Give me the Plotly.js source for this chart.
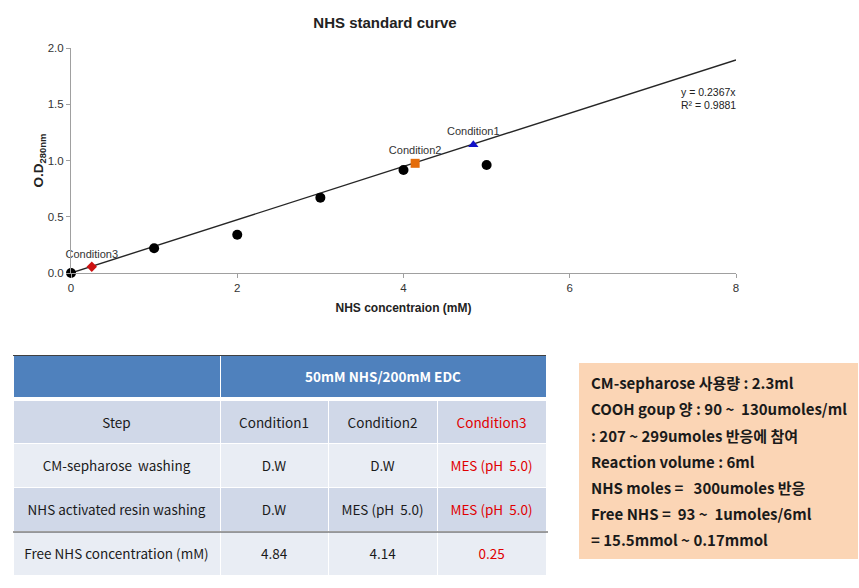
<!DOCTYPE html>
<html>
<head>
<meta charset="utf-8">
<script src="https://cdn.plot.ly/plotly-3.0.1.min.js"></script>
<style>html,body{margin:0;padding:0;background:#fff;}#chart{width:859px;height:588px;}</style>
</head>
<body>
<div id="chart"></div>
<script>
// ---- data ----
const stdX = [0, 1, 2, 3, 4, 5];
const stdY = [0, 0.22, 0.34, 0.67, 0.915, 0.96];
const condNames = ["Condition1", "Condition2", "Condition3"];
const condX = [4.84, 4.14, 0.25];
const condY = [1.14, 0.975, 0.056];
const trendX = [0, 8];
const trendY = [0, 1.894];
const eqLines = ["y = 0.2367x", "R\u00b2 = 0.9881"];
const xTicks = [0, 2, 4, 6, 8];
const xTickText = ["0", "2", "4", "6", "8"];
const yTicks = [0, 0.5, 1, 1.5, 2];
const yTickText = ["0.0", "0.5", "1.0", "1.5", "2.0"];
const tableTop = ["", "50mM NHS/200mM EDC"];
const tableHead = ["Step", "Condition1", "Condition2", "Condition3"];
const tableSteps = ["CM-sepharose\u00a0\u00a0washing", "NHS\u00a0activated\u00a0resin\u00a0washing", "Free\u00a0NHS\u00a0concentration\u00a0(mM)"];
const tableC1 = ["D.W", "D.W", "4.84"];
const tableC2 = ["D.W", "MES\u00a0(pH\u00a0\u00a05.0)", "4.14"];
const tableC3 = ["MES\u00a0(pH\u00a0\u00a05.0)", "MES\u00a0(pH\u00a0\u00a05.0)", "0.25"];
const noteLines = [
  "CM-sepharose \uc0ac\uc6a9\ub7c9 : 2.3ml",
  "COOH goup \uc591 : 90 ~ \u00a0130umoles/ml",
  ": 207 ~ 299umoles \ubc18\uc751\uc5d0 \ucc38\uc5ec",
  "Reaction volume : 6ml",
  "NHS moles = \u00a0\u00a0300umoles \ubc18\uc751",
  "Free NHS = \u00a093 ~ \u00a01umoles/6ml",
  "= 15.5mmol ~ 0.17mmol"
];

// ---- layout helpers ----
const W = 859, H = 588;
const px = x => x / W;
const py = y => 1 - y / H;
const sans = "'Liberation Sans', Arial, sans-serif";
const kr = "'Noto Sans CJK KR', 'Noto Sans', sans-serif";
const clear = 'rgba(0,0,0,0)';
const textShift = 10;
const blank = arr => arr.map(() => "");
const bodyColors = ['#1a1a1a', '#1a1a1a', '#1a1a1a', '#E00000'];

const traces = [
  {x: trendX, y: trendY, mode: 'lines', line: {color: '#262626', width: 1.4}, hoverinfo: 'skip', cliponaxis: false},
  {x: stdX, y: stdY, mode: 'markers', marker: {symbol: 'circle', size: 10, color: '#000'}, cliponaxis: false},
  {x: [condX[0]], y: [condY[0]], text: [condNames[0]], mode: 'markers+text', textposition: 'top center',
   textfont: {family: sans, size: 11, color: '#333'}, marker: {symbol: 'triangle-up', size: 9, color: '#1010C8'}, cliponaxis: false},
  {x: [condX[1]], y: [condY[1]], text: [condNames[1]], mode: 'markers+text', textposition: 'top center',
   textfont: {family: sans, size: 11, color: '#333'}, marker: {symbol: 'square', size: 9, color: '#E46C0A'}, cliponaxis: false},
  {x: [condX[2]], y: [condY[2]], text: [condNames[2]], mode: 'markers+text', textposition: 'top center',
   textfont: {family: sans, size: 11, color: '#333'}, marker: {symbol: 'diamond', size: 8, color: '#CC1010'}, cliponaxis: false},
  // table fills
  {type: 'table', domain: {x: [px(13), px(546)], y: [py(588), py(355)]}, columnwidth: [207, 326],
   header: {values: blank(tableTop), height: 42, fill: {color: '#4F81BD'}, line: {color: '#ffffff', width: 1}},
   cells: {values: [[], []], height: 1}},
  {type: 'table', domain: {x: [px(13), px(546)], y: [py(588), py(400)]}, columnwidth: [207, 108, 109, 109],
   header: {values: blank(tableHead), height: 43, fill: {color: '#D0D8E8'}, line: {color: '#ffffff', width: 1}},
   cells: {values: [blank(tableSteps), blank(tableC1), blank(tableC2), blank(tableC3)], height: 44,
     fill: {color: [['#E9EDF4', '#D0D8E8', '#E9EDF4']]}, line: {color: '#ffffff', width: 1}}},
  // table texts
  {type: 'table', domain: {x: [px(13), px(546)], y: [py(588), py(355 + textShift - 1)]}, columnwidth: [207, 326],
   header: {values: tableTop, height: 42, fill: {color: clear}, line: {color: clear, width: 0},
     align: 'center', font: {family: kr, size: 13.5, color: '#ffffff', weight: 'bold'}},
   cells: {values: [[], []], height: 1, fill: {color: clear}, line: {color: clear, width: 0}}},
  {type: 'table', domain: {x: [px(13), px(546)], y: [py(588), py(400 + textShift)]}, columnwidth: [207, 108, 109, 109],
   header: {values: tableHead, height: 43, fill: {color: clear}, line: {color: clear, width: 0},
     align: 'center', font: {family: kr, size: 13.5, color: bodyColors}},
   cells: {values: [tableSteps, tableC1, tableC2, tableC3], height: 44,
     fill: {color: clear}, line: {color: clear, width: 0},
     align: 'center', font: {family: kr, size: 13.5, color: bodyColors}}}
];

const annotations = [
  {xref: 'paper', yref: 'paper', x: px(679), y: py(92), xanchor: 'left', yanchor: 'middle', showarrow: false,
   text: eqLines[0], font: {family: sans, size: 10.5, color: '#222'}},
  {xref: 'paper', yref: 'paper', x: px(679), y: py(105), xanchor: 'left', yanchor: 'middle', showarrow: false,
   text: eqLines[1], font: {family: sans, size: 10.5, color: '#222'}}
];
const noteY = [382, 408, 435, 461, 487, 513, 539];
noteLines.forEach((t, i) => annotations.push({
  xref: 'paper', yref: 'paper', x: px(589), y: py(noteY[i]), xanchor: 'left', yanchor: 'middle', showarrow: false,
  text: t, font: {family: kr, size: 15, color: '#1a1a1a', weight: 'bold'}
}));

const layout = {
  width: W, height: H,
  margin: {l: 0, r: 0, t: 0, b: 0},
  paper_bgcolor: '#ffffff', plot_bgcolor: '#ffffff',
  showlegend: false,
  title: {text: '<b>NHS standard curve</b>', x: px(385), y: py(23), xanchor: 'center', yanchor: 'middle',
    xref: 'paper', yref: 'paper', font: {family: sans, size: 15, color: '#222'}},
  xaxis: {domain: [px(71), px(736)], range: [0, 8], tickvals: xTicks, ticktext: xTickText,
    showline: true, linecolor: '#a0a0a0', linewidth: 1, ticks: 'outside', ticklen: 4, tickcolor: '#a0a0a0',
    showgrid: false, zeroline: false, tickfont: {family: sans, size: 11.5, color: '#333'},
    title: {text: '<b>NHS concentraion (mM)</b>', standoff: 10, font: {family: sans, size: 12, color: '#222'}}},
  yaxis: {domain: [py(273), py(48)], range: [0, 2], tickvals: yTicks, ticktext: yTickText,
    showline: true, linecolor: '#a0a0a0', linewidth: 1, ticks: 'outside', ticklen: 4, tickcolor: '#a0a0a0',
    showgrid: false, zeroline: false, tickfont: {family: sans, size: 11.5, color: '#333'},
    title: {text: '<b>O.D<sub>280nm</sub></b>', standoff: 0, font: {family: sans, size: 13.5, color: '#222'}}},
  shapes: [
    {type: 'rect', xref: 'paper', yref: 'paper', x0: px(579), x1: px(858), y0: py(559), y1: py(363),
     fillcolor: '#FBD5B5', line: {width: 0}, layer: 'below'},
    {type: 'line', xref: 'paper', yref: 'paper', x0: px(13), x1: px(546), y0: py(355.5), y1: py(355.5),
     line: {color: '#404040', width: 1}, layer: 'above'},
    {type: 'line', xref: 'paper', yref: 'paper', x0: px(13), x1: px(548), y0: py(532), y1: py(532),
     line: {color: '#404040', width: 1.2}, layer: 'above'}
  ],
  annotations: annotations
};

Plotly.newPlot('chart', traces, layout, {displayModeBar: false, staticPlot: true});
</script>
</body>
</html>
